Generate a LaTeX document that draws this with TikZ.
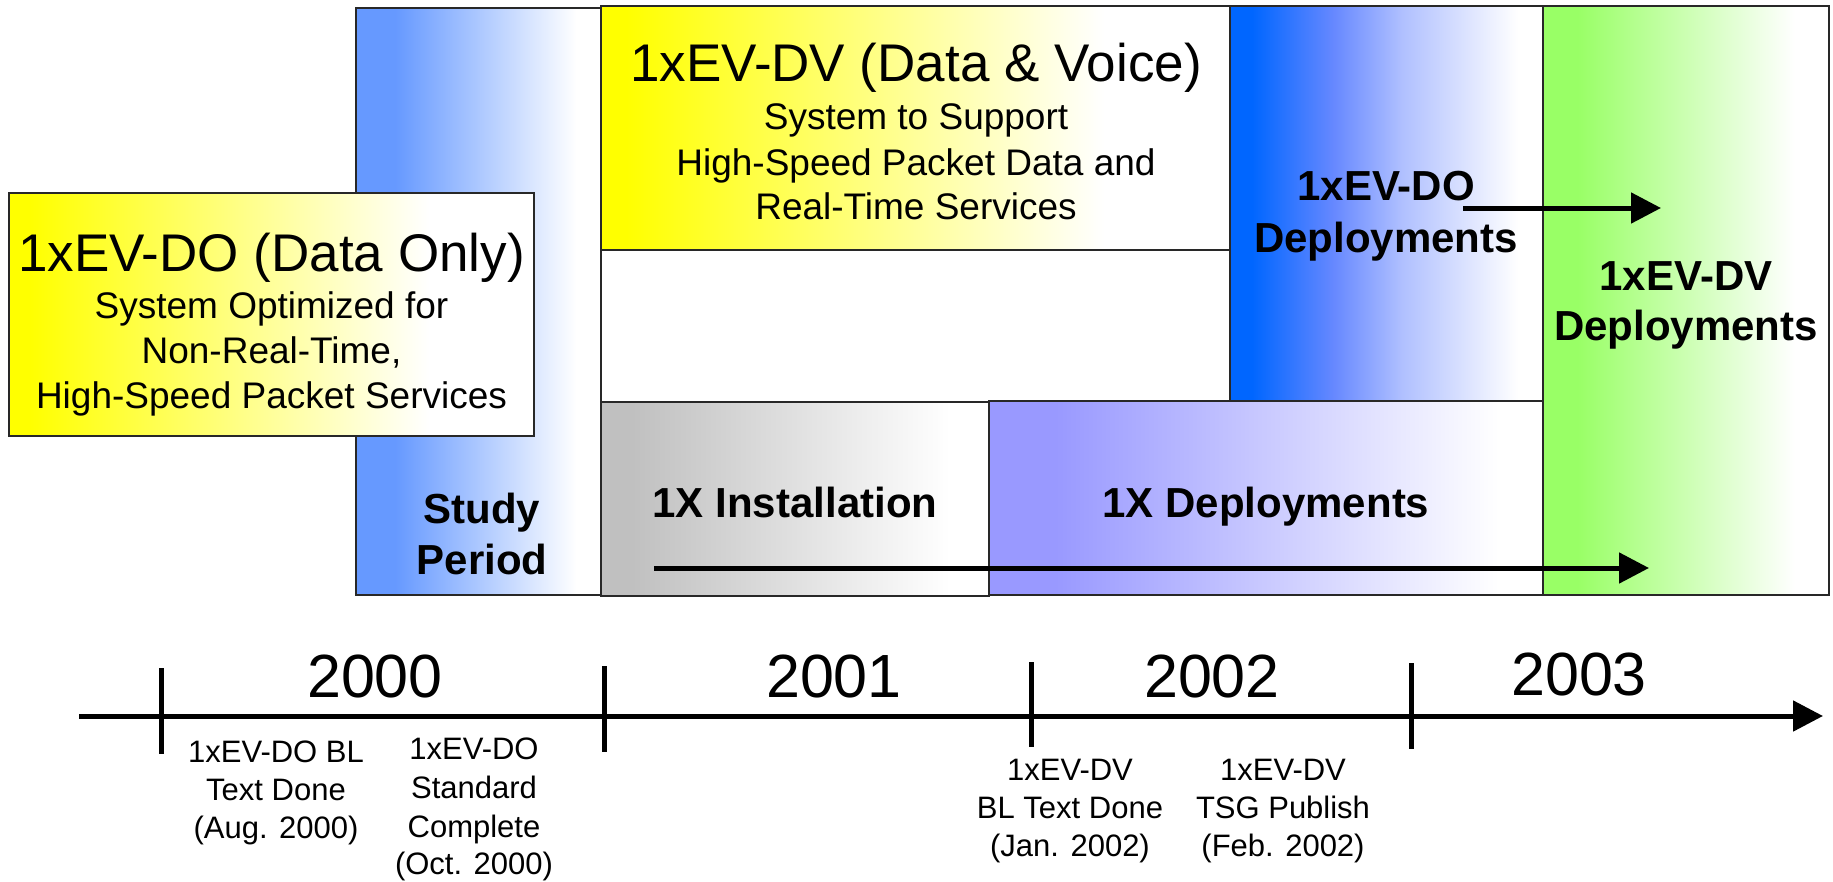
\documentclass[tikz,border=0pt]{standalone}
\usepackage{fontspec}
\setmainfont{Liberation Sans}
\usetikzlibrary{arrows.meta}
\definecolor{cStudy}{RGB}{102,153,255}
\definecolor{cYel}{RGB}{255,255,0}
\definecolor{cGray}{RGB}{192,192,192}
\definecolor{cPurp}{RGB}{153,153,255}
\definecolor{cBlue}{RGB}{0,102,255}
\definecolor{cBlueM}{RGB}{102,136,255}
\definecolor{cBlueL}{RGB}{176,192,255}
\definecolor{cGreen}{RGB}{153,255,102}
\definecolor{cEdge}{RGB}{40,40,40}
\pgfdeclarehorizontalshading{shStudy}{100bp}{color(0bp)=(cStudy); color(33bp)=(cStudy); color(70bp)=(white); color(100bp)=(white)}
\pgfdeclarehorizontalshading{shYel}{100bp}{color(0bp)=(cYel); color(27bp)=(cYel); color(65bp)=(white); color(100bp)=(white)}
\pgfdeclarehorizontalshading{shGray}{100bp}{color(0bp)=(cGray); color(29bp)=(cGray); color(70bp)=(white); color(100bp)=(white)}
\pgfdeclarehorizontalshading{shPurp}{100bp}{color(0bp)=(cPurp); color(31bp)=(cPurp); color(71bp)=(white); color(100bp)=(white)}
\pgfdeclarehorizontalshading{shBlue}{100bp}{color(0bp)=(cBlue); color(28.5bp)=(cBlue); color(41.5bp)=(cBlueM); color(52.5bp)=(cBlueL); color(71bp)=(white); color(100bp)=(white)}
\pgfdeclarehorizontalshading{shGreen}{100bp}{color(0bp)=(cGreen); color(31bp)=(cGreen); color(69bp)=(white); color(100bp)=(white)}
\tikzset{
  box/.style={rectangle, draw=cEdge, line width=2pt, anchor=north west, inner sep=0pt, outer sep=0pt, shade},
  ttl/.style={font=\fontsize{53}{60}\selectfont, anchor=base, inner sep=0pt},
  sub/.style={font=\fontsize{37}{45}\selectfont, anchor=base, inner sep=0pt},
  bld/.style={font=\bfseries\fontsize{42}{50}\selectfont, anchor=base, inner sep=0pt},
  yr/.style={font=\fontsize{61}{70}\selectfont, anchor=base, inner sep=0pt},
  note/.style={font=\fontsize{31}{38}\selectfont, anchor=base, inner sep=0pt},
  thick arrow/.style={line width=5pt, -{Triangle[length=30pt,width=30pt]}},
  tick/.style={line width=5pt}
}
\begin{document}
\begin{tikzpicture}[x=1pt,y=-1pt]
\useasboundingbox (0,0) rectangle (1833,881);
% boxes
\node[box, shading=shStudy, minimum width=245pt, minimum height=587pt] (study) at (356,8) {};
\node[box, shading=shYel, minimum width=525pt, minimum height=243pt] (dobox) at (9,193) {};
\node[box, shading=shYel, minimum width=629pt, minimum height=244pt] (dvbox) at (601,6) {};
\node[box, shading=shBlue, minimum width=313pt, minimum height=395pt] (dodep) at (1230,6) {};
\node[box, shading=shGreen, minimum width=286pt, minimum height=589pt] (dvdep) at (1543,6) {};
\node[box, shading=shGray, minimum width=388pt, minimum height=194pt] (inst) at (601,402) {};
\node[box, shading=shPurp, minimum width=554pt, minimum height=194pt] (dep1x) at (989,401) {};
% DO box text
\node[ttl] (doT) at (271.5,271) {1xEV-DO (Data Only)};
\node[sub] (doS1) at (271.5,318) {System Optimized for};
\node[sub] (doS2) at (271.5,363) {Non-Real-Time,};
\node[sub] (doS3) at (271.5,408) {High-Speed Packet Services};
% DV box text
\node[ttl] (dvT) at (916,81) {1xEV-DV (Data \& Voice)};
\node[sub] (dvS1) at (916,129) {System to Support};
\node[sub] (dvS2) at (916,175) {High-Speed Packet Data and};
\node[sub] (dvS3) at (916,219) {Real-Time Services};
% bold labels
\node[bld] (stA) at (482,523) {Study};
\node[bld] (stB) at (482,574) {Period};
\node[bld] (instT) at (795,517) {1X Installation};
\node[bld] (depT) at (1266,517) {1X Deployments};
\node[bld] (dodA) at (1386,200) {1xEV-DO};
\node[bld] (dodB) at (1386,252) {Deployments};
\node[bld] (dvdA) at (1686,290) {1xEV-DV};
\node[bld] (dvdB) at (1686,340) {Deployments};
% arrows in boxes
\coordinate (a1s) at (1463,208);
\coordinate (a1e) at (1661,208);
\draw[thick arrow] (a1s) -- (a1e);
\coordinate (a2s) at (654,568);
\coordinate (a2e) at (1649,568);
\draw[thick arrow] (a2s) -- (a2e);
% timeline
\coordinate (axL) at (79,716);
\coordinate (axR) at (1823,716);
\draw[thick arrow] (axL) -- (axR);
\coordinate (t1a) at (161,668); \coordinate (t1b) at (161,754);
\coordinate (t2a) at (604,666); \coordinate (t2b) at (604,752);
\coordinate (t3a) at (1031,662); \coordinate (t3b) at (1031,747);
\coordinate (t4a) at (1411,663); \coordinate (t4b) at (1411,749);
\draw[tick] (t1a) -- (t1b);
\draw[tick] (t2a) -- (t2b);
\draw[tick] (t3a) -- (t3b);
\draw[tick] (t4a) -- (t4b);
\node[yr] (y2000) at (375,697) {2000};
\node[yr] (y2001) at (834,697) {2001};
\node[yr] (y2002) at (1212,697) {2002};
\node[yr] (y2003) at (1579,695) {2003};
% notes
\node[note] (nA1) at (276,762) {1xEV-DO BL};
\node[note] (nA2) at (276,800) {Text Done};
\node[note] (nA3) at (276,838) {(Aug. 2000)};
\node[note] (nB1) at (474,759) {1xEV-DO};
\node[note] (nB2) at (474,798) {Standard};
\node[note] (nB3) at (474,837) {Complete};
\node[note] (nB4) at (474,874) {(Oct. 2000)};
\node[note] (nC1) at (1070,780) {1xEV-DV};
\node[note] (nC2) at (1070,818) {BL Text Done};
\node[note] (nC3) at (1070,856) {(Jan. 2002)};
\node[note] (nD1) at (1283,780) {1xEV-DV};
\node[note] (nD2) at (1283,818) {TSG Publish};
\node[note] (nD3) at (1283,856) {(Feb. 2002)};
\end{tikzpicture}
\end{document}
